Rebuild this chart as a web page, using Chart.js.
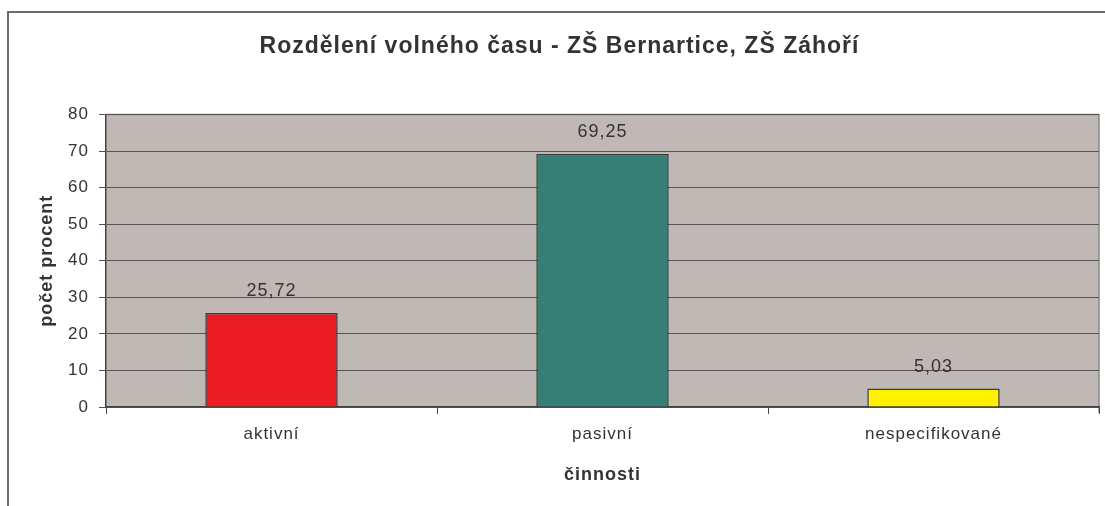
<!DOCTYPE html>
<html>
<head>
<meta charset="utf-8">
<script src="https://cdn.jsdelivr.net/npm/chart.js@4"></script>
<style>
    html, body { margin: 0; padding: 0; background: #fff; overflow: hidden; }
    #wrap { position: relative; width: 1105px; height: 506px; overflow: hidden; }
    #frame { position: absolute; left: 7px; top: 11px; width: 1200px; height: 600px; border: 2px solid #6b6b6b; }
    #box { position: absolute; left: 0; top: 0; width: 1120px; height: 506px; }
</style>
</head>
<body>
<div id="wrap">
    <div id="frame"></div>
    <div id="box"><canvas id="graf"></canvas></div>
</div>
<script>
const kategorie = ['aktivní', 'pasivní', 'nespecifikované'];
const hodnoty = [25.72, 69.25, 5.03];
const popisky = ['25,72', '69,25', '5,03'];
const barvy = ['#ED1C24', '#367F75', '#FFF200'];

const font = 'Liberation Sans, Arial, sans-serif';

// reference text has slightly wider tracking
const rozestupPlugin = {
    id: 'rozestup',
    beforeUpdate(chart) { chart.ctx.letterSpacing = '1px'; },
    beforeDraw(chart) { chart.ctx.letterSpacing = '1px'; }
};

const popiskyPlugin = {
    id: 'popisky',
    afterDatasetsDraw(chart) {
        const ctx = chart.ctx;
        const meta = chart.getDatasetMeta(0);
        ctx.save();
        ctx.font = '18px ' + font;
        ctx.fillStyle = '#333';
        ctx.textAlign = 'center';
        ctx.textBaseline = 'middle';
        meta.data.forEach((bar, i) => {
            ctx.fillText(popisky[i], bar.x, bar.y - 22);
        });
        ctx.restore();
    }
};

const pozadiPlugin = {
    id: 'pozadi',
    beforeDraw(chart) {
        const a = chart.chartArea;
        const ctx = chart.ctx;
        ctx.save();
        ctx.fillStyle = '#C0B8B5';
        ctx.fillRect(a.left, a.top, a.right - a.left, a.bottom - a.top);
        ctx.strokeStyle = '#8f8785';
        ctx.lineWidth = 1.5;
        ctx.beginPath();
        ctx.moveTo(a.left, a.top);
        ctx.lineTo(a.right, a.top);
        ctx.lineTo(a.right, a.bottom + 6);
        ctx.stroke();
        ctx.restore();
    }
};

const data = {
    labels: kategorie,
    datasets: [{
        data: hodnoty,
        backgroundColor: barvy,
        borderColor: '#3a3a3a',
        borderWidth: 1.5,
        barPercentage: 0.4,
        categoryPercentage: 1
    }]
};

const config = {
    type: 'bar',
    data: data,
    plugins: [rozestupPlugin, pozadiPlugin, popiskyPlugin],
    options: {
        responsive: false,
        animation: false,
        devicePixelRatio: 1,
        layout: { padding: { left: 20, right: 21, top: 0, bottom: 0 } },
        plugins: {
            legend: { display: false },
            tooltip: { enabled: false },
            title: {
                display: true,
                text: 'Rozdělení volného času - ZŠ Bernartice, ZŠ Záhoří',
                color: '#333',
                font: { family: font, size: 23, weight: 'bold' },
                padding: { top: 33, bottom: 54 }
            }
        },
        scales: {
            x: {
                offset: true,
                afterFit(scale) { scale.height = 99; },
                grid: {
                    offset: true,
                    drawOnChartArea: false,
                    tickLength: 7,
                    color: '#444',
                    lineWidth: 1
                },
                border: { color: '#444', width: 1.5 },
                ticks: {
                    color: '#333',
                    padding: 10,
                    font: { family: font, size: 17 }
                },
                title: {
                    display: true,
                    text: 'činnosti',
                    color: '#333',
                    font: { family: font, size: 18, weight: 'bold' },
                    padding: { top: 0, bottom: 20 }
                }
            },
            y: {
                min: 0,
                max: 80,
                afterFit(scale) { scale.width = 86; },
                grid: {
                    color: '#555',
                    lineWidth: 1,
                    tickLength: 7
                },
                border: { color: '#444', width: 1.5 },
                ticks: {
                    stepSize: 10,
                    color: '#333',
                    padding: 10,
                    font: { family: font, size: 17 }
                },
                title: {
                    display: true,
                    text: 'počet procent',
                    color: '#333',
                    font: { family: font, size: 18, weight: 'bold' },
                    padding: { top: 16, bottom: 0 }
                }
            }
        }
    }
};

const canvas = document.getElementById('graf');
canvas.width = 1120;
canvas.height = 506;
const graf = new Chart(canvas, config);
</script>
</body>
</html>
